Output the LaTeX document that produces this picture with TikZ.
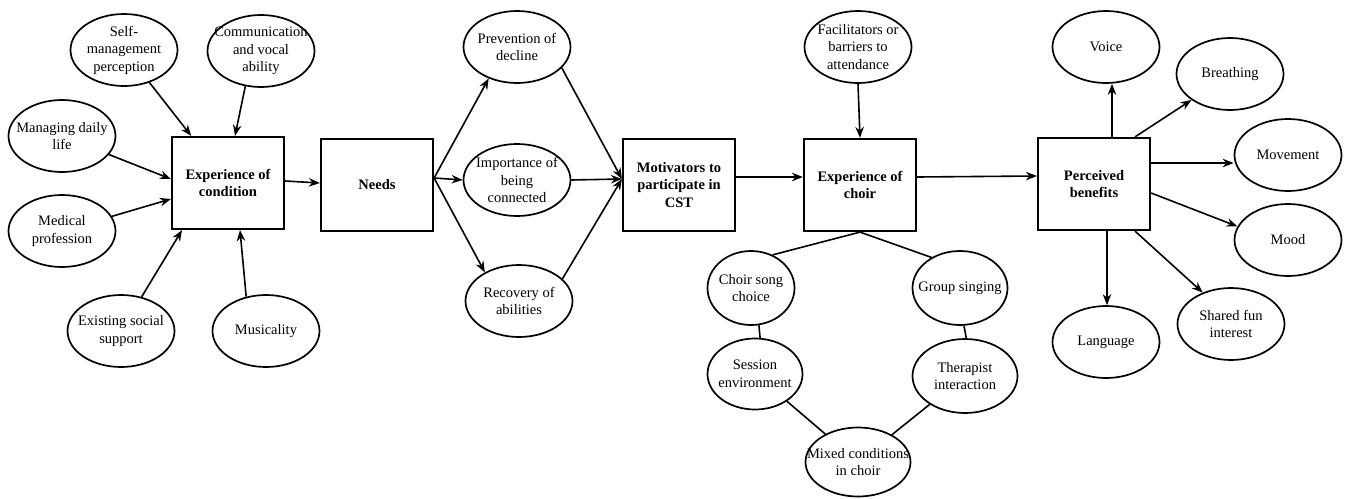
\documentclass[tikz,border=0pt]{standalone}
\usepackage{fontspec}
\setmainfont{Liberation Serif}
\usepackage{tikz}
\usetikzlibrary{arrows.meta}
\usetikzlibrary{shapes.geometric}

\begin{document}
\begin{tikzpicture}[x=1pt,y=-1pt]
	\useasboundingbox (0,0) rectangle (1346,498);
	\begin{scope}[every node/.style={rectangle,draw,line width=2.2pt,minimum width=112pt,minimum height=92pt,
	              align=center,font=\fontsize{14.5}{17.5}\selectfont\bfseries}]
		\node (econd) at (228,183) {Experience of\\condition};
		\node (needs) at (377,185) {Needs};
		\node (motiv) at (679,185) {Motivators to\\participate in\\CST};
		\node (echoir) at (860,185) {Experience of\\choir};
		\node (perc) at (1094,184) {Perceived\\benefits};
	\end{scope}

	\begin{scope}[every node/.style={ellipse,draw,line width=1.7pt,inner sep=-20pt,minimum width=107pt,minimum height=72pt,
	              align=center,font=\fontsize{14.5}{17.5}\selectfont}]
		\node (self) at (124,50) {Self-\\management\\perception};
		\node (comm) at (261,51) {Communication\\and vocal\\ability};
		\node (daily) at (62,136) {Managing daily\\life};
		\node (med) at (62,231) {Medical\\profession};
		\node (social) at (121,331) {Existing social\\support};
		\node (music) at (266,331) {Musicality};
		\node (prev) at (517,47) {Prevention of\\decline};
		\node (conn) at (517,180) {Importance of\\being\\connected};
		\node (recov) at (519,301) {Recovery of\\abilities};
		\node (facil) at (858,47) {Facilitators or\\barriers to\\attendance};
		\node[minimum width=87pt,minimum height=74pt] (song) at (751,288) {Choir song\\choice};
		\node[minimum width=95pt,minimum height=74pt] (group) at (960,288) {Group singing};
		\node[minimum width=95pt,minimum height=71pt] (session) at (755,374) {Session\\environment};
		\node[minimum width=105pt,minimum height=74pt] (ther) at (965,376) {Therapist\\interaction};
		\node[minimum width=105pt,minimum height=69pt] (mixed) at (858,462) {Mixed conditions\\in choir};
		\node (voice) at (1106,47) {Voice};
		\node (breath) at (1230,74) {Breathing};
		\node (move) at (1288,155) {Movement};
		\node (mood) at (1288,240) {Mood};
		\node (lang) at (1106,342) {Language};
		\node (fun) at (1231,324) {Shared fun\\interest};
	\end{scope}

	\begin{scope}[>={Stealth[length=11pt,width=8.5pt]},
	              every edge/.style={draw=black,line width=1.6pt}]
		% into the experience of condition
		\path (self) edge[->] (econd);
		\path (comm.-114) edge[->] ([xshift=7pt]econd.north);
		\path (daily) edge[->] ([yshift=4pt]econd.west);
		\path (med) edge[->] ([yshift=-16pt]econd.west);
		\path (social) edge[->] ([xshift=-46pt]econd.south);
		\path (music.120) edge[->] ([xshift=12pt]econd.south);
		% main line
		\path ([yshift=2pt]econd.east) edge[->] ([yshift=2pt]needs.west);
		\path ([yshift=7pt]needs.east) edge[->] (prev.-132);
		\path ([yshift=7pt]needs.east) edge[->] (conn.west);
		\path ([yshift=7pt]needs.east) edge[->] (recov.140);
		\path (prev.-25) edge[->] ([yshift=6pt]motiv.west);
		\path (conn.east) edge[->] ([yshift=6pt]motiv.west);
		\path (recov.27) edge[->] ([yshift=6pt]motiv.west);
		\path ([yshift=8pt]motiv.east) edge[->] ([yshift=8pt]echoir.west);
		\path (facil.south) edge[->] (echoir.north);
		\path ([yshift=8pt]echoir.east) edge[->] ([yshift=8pt]perc.west);
		% choir themes
		\path (echoir.south) edge (song.57);
		\path (echoir.south) edge (group.133);
		\path (song.-78) edge (session.82);
		\path (group.-84) edge (ther.88);
		\path (session) edge (mixed);
		\path (ther) edge (mixed);
		% benefits
		\path ([xshift=18pt]perc.north) edge[->] ([xshift=18pt]perc.north |- voice.south);
		\path ([xshift=41pt]perc.north) edge[->] (breath.-146);
		\path ([yshift=21pt]perc.east) edge[->] ([yshift=21pt]perc.east -| move.west);
		\path ([yshift=-9pt]perc.east) edge[->] (mood.165);
		\path ([xshift=13pt]perc.south) edge[->] ([xshift=13pt]perc.south |- lang.north);
		\path ([xshift=41pt]perc.south) edge[->] (fun.132);
	\end{scope}
\end{tikzpicture}
\end{document}
